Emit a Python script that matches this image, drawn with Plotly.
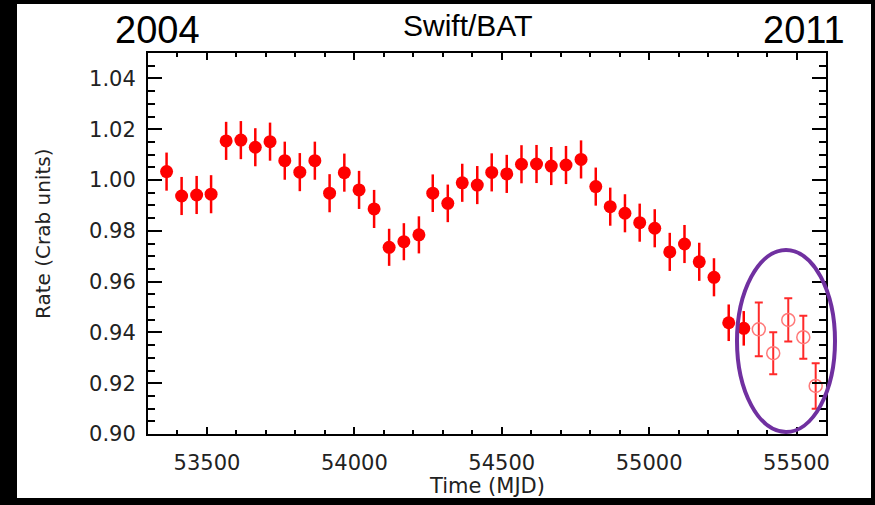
import plotly.graph_objects as go

# ---- data ----
mjd_filled = [53363, 53414, 53465, 53514, 53565, 53615, 53664, 53714, 53764, 53815,
              53866, 53916, 53966, 54016, 54067, 54118, 54168, 54219, 54266, 54317,
              54366, 54417, 54466, 54517, 54567, 54618, 54668, 54718, 54769, 54819,
              54868, 54918, 54968, 55019, 55070, 55120, 55170, 55220, 55270, 55321]
rate_filled = [1.0033, 0.9937, 0.9941, 0.9944, 1.0154, 1.0157, 1.0129, 1.0151, 1.0076, 1.0031,
               1.0076, 0.9948, 1.0029, 0.9961, 0.9886, 0.9735, 0.9757, 0.9784, 0.9948, 0.9908,
               0.9989, 0.9980, 1.0030, 1.0024, 1.0062, 1.0063, 1.0055, 1.0059, 1.0081, 0.9974,
               0.9895, 0.9869, 0.9832, 0.9810, 0.9717, 0.9748, 0.9678, 0.9617, 0.9438, 0.9416]
err_filled = [0.0075, 0.0075, 0.0075, 0.0075, 0.0075, 0.0075, 0.0075, 0.0075, 0.0075, 0.0075,
              0.0075, 0.0075, 0.0075, 0.0075, 0.0075, 0.0073, 0.0073, 0.0073, 0.0074, 0.0074,
              0.0075, 0.0075, 0.0075, 0.0075, 0.0075, 0.0075, 0.0075, 0.0075, 0.0075, 0.0075,
              0.0075, 0.0075, 0.0075, 0.0075, 0.0075, 0.0075, 0.0075, 0.0075, 0.0072, 0.0068]

mjd_open = [55372, 55421, 55472, 55523, 55565]
rate_open = [0.9412, 0.9318, 0.9449, 0.9381, 0.9189]
err_open = [0.0106, 0.0083, 0.0085, 0.0085, 0.0090]

x_ticks = [53500, 54000, 54500, 55000, 55500]
y_ticks = [0.90, 0.92, 0.94, 0.96, 0.98, 1.00, 1.02, 1.04]

title_text = "Swift/BAT"
year_left = "2004"
year_right = "2011"
x_title = "Time (MJD)"
y_title = "Rate (Crab units)"

RED = "#ff0000"
PURPLE = "#7030a0"
LABEL_FONT = "DejaVu Sans"

fig = go.Figure()

fig.add_trace(go.Scatter(
    x=mjd_filled, y=rate_filled, mode="markers",
    marker=dict(symbol="circle", size=13, color=RED, line=dict(width=0)),
    error_y=dict(type="data", array=err_filled, visible=True, color=RED,
                 thickness=2.5, width=0),
    showlegend=False, cliponaxis=False,
))

fig.add_trace(go.Scatter(
    x=mjd_open, y=rate_open, mode="markers",
    marker=dict(symbol="circle-open", size=13, color="#ff7a7a", line=dict(width=1.5)),
    error_y=dict(type="data", array=err_open, visible=True, color="#ff2a2a",
                 thickness=2, width=4),
    showlegend=False, cliponaxis=False,
))

axis_common = dict(
    showline=True, linecolor="black", linewidth=2, mirror="ticks",
    ticks="inside", tickcolor="black", showgrid=False, zeroline=False,
    tickfont=dict(family=LABEL_FONT, size=21, color="#222222"),
)

fig.update_xaxes(
    range=[53300, 55600], tickmode="array", tickvals=x_ticks,
    ticktext=[str(v) for v in x_ticks],
    ticklen=7, tickwidth=1.5, ticklabelstandoff=9,
    minor=dict(dtick=100, tick0=53300, ticks="inside", ticklen=4, tickwidth=1.5,
               tickcolor="black", showgrid=False),
    **axis_common,
)
fig.update_yaxes(
    range=[0.90, 1.05], tickmode="array", tickvals=y_ticks,
    ticktext=["%.2f" % v for v in y_ticks],
    ticklen=14, tickwidth=1.5, ticklabelstandoff=6,
    minor=dict(dtick=0.005, tick0=0.90, ticks="inside", ticklen=7, tickwidth=1.5,
               tickcolor="black", showgrid=False),
    **axis_common,
)

L, R, T, B = 148, 49, 53, 71
W, H = 875, 505
pw, ph = W - L - R, H - T - B


def px(xp):
    return (xp - L) / pw


def py(yp):
    return (H - B - yp) / ph


shapes = [
    # white page inside black border
    dict(type="rect", xref="paper", yref="paper", x0=px(17), x1=px(871),
         y0=py(498), y1=py(4), fillcolor="white", line=dict(width=0), layer="below"),
    # purple ellipse highlight
    dict(type="circle", xref="paper", yref="paper", x0=px(737), x1=px(835),
         y0=py(432), y1=py(250), line=dict(color=PURPLE, width=4), layer="above"),
]

annotations = [
    dict(text=title_text, xref="paper", yref="paper", x=px(467), y=py(26),
         xanchor="center", yanchor="middle", showarrow=False,
         font=dict(family="Liberation Sans", size=30, color="black")),
    dict(text=year_left, xref="paper", yref="paper", x=px(157), y=py(29.5),
         xanchor="center", yanchor="middle", showarrow=False,
         font=dict(family="Liberation Sans", size=38, color="black")),
    dict(text=year_right, xref="paper", yref="paper", x=px(803.5), y=py(29.5),
         xanchor="center", yanchor="middle", showarrow=False,
         font=dict(family="Liberation Sans", size=38, color="black")),
    dict(text=x_title, xref="paper", yref="paper", x=px(486.5), y=py(486),
         xanchor="center", yanchor="middle", showarrow=False,
         font=dict(family=LABEL_FONT, size=21, color="#222222")),
    dict(text=y_title, xref="paper", yref="paper", x=px(43), y=py(234),
         xanchor="center", yanchor="middle", showarrow=False, textangle=-90,
         font=dict(family=LABEL_FONT, size=20, color="#222222")),
]

fig.update_layout(
    width=W, height=H,
    margin=dict(l=L, r=R, t=T, b=B, pad=0),
    paper_bgcolor="black", plot_bgcolor="white",
    shapes=shapes, annotations=annotations,
    showlegend=False,
)

fig.write_html("out.html")
